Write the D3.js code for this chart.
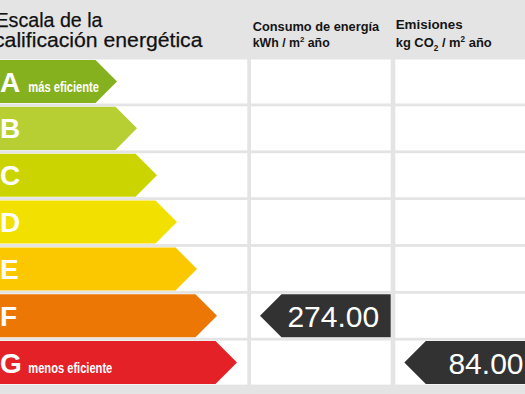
<!DOCTYPE html>
<html>
<head>
<meta charset="utf-8">
<script src="https://cdn.jsdelivr.net/npm/d3@7"></script>
<style>
  html, body { margin: 0; padding: 0; background: #e4e4e4; overflow: hidden; }
  svg { display: block; }
</style>
</head>
<body>
<div id="chart"></div>
<script>
// ---- data ----
const classes = ["A", "B", "C", "D", "E", "F", "G"];
const classRank = [1, 2, 3, 4, 5, 6, 7];
const classNotes = ["más eficiente", "", "", "", "", "", "menos eficiente"];
const titleLines = ["Escala de la", "calificación energética"];
const indicators = ["Consumo de energía", "Emisiones"];
const indicatorUnits = ["kWh / m² año", "kg CO₂ / m² año"];
const indicatorValues = [274.00, 84.00];
const indicatorClasses = ["F", "G"];

// ---- styles ----
const palette = ["#86b11f", "#b7cf33", "#ccd400", "#f1e000", "#fbc800", "#ec7705", "#e32127"];
const W = 525, H = 394;
const gray = "#e4e4e4";

const svg = d3.select("#chart").append("svg")
  .attr("width", W).attr("height", H)
  .style("font-family", "'Liberation Sans', Arial, Helvetica, sans-serif");

svg.append("rect").attr("width", W).attr("height", H).attr("fill", gray);

const y = d3.scaleBand().domain(classes).range([59.5, 384.6]).paddingInner(0.06);
const tip = d3.scaleLinear().domain([1, 7]).range([117, 237]);
const color = d3.scaleOrdinal(classes, palette);

// column layout
const cols = [
  { x0: 0, x1: 247.3 },
  { x0: 251, x1: 390.7 },
  { x0: 395.3, x1: 535 }
];

// white cells
cols.forEach(c => {
  svg.append("g").selectAll("rect").data(classes).join("rect")
    .attr("x", c.x0).attr("width", c.x1 - c.x0)
    .attr("y", d => y(d)).attr("height", y.bandwidth())
    .attr("fill", "#ffffff");
});

// title
svg.append("g").selectAll("text").data(titleLines).join("text")
  .attr("x", (d, i) => i === 0 ? -4.5 : -6)
  .attr("y", (d, i) => i === 0 ? 27 : 47.3)
  .attr("textLength", (d, i) => i === 0 ? 107 : 208.5)
  .attr("lengthAdjust", "spacingAndGlyphs")
  .attr("font-size", 20.5)
  .attr("fill", "#111")
  .attr("stroke", "#111").attr("stroke-width", 0.25)
  .text(d => d);

// column headers
const hdr = svg.append("g").attr("fill", "#151515").attr("font-weight", "bold");
hdr.append("text").attr("x", 252.7).attr("y", 30.5).attr("font-size", 12.5)
  .attr("textLength", 126.5).attr("lengthAdjust", "spacingAndGlyphs")
  .text(indicators[0]);
const u1 = hdr.append("text").attr("x", 252.7).attr("y", 46.5).attr("font-size", 12.5)
  .attr("textLength", 77).attr("lengthAdjust", "spacingAndGlyphs");
{
  const parts = indicatorUnits[0].split("²");
  u1.append("tspan").text(parts[0]);
  u1.append("tspan").attr("dy", -4.5).attr("font-size", 8).text("2");
  u1.append("tspan").attr("dy", 4.5).text(parts[1]);
}
hdr.append("text").attr("x", 395.7).attr("y", 29.3).attr("font-size", 13.5)
  .attr("textLength", 67).attr("lengthAdjust", "spacingAndGlyphs")
  .text(indicators[1]);
const u2 = hdr.append("text").attr("x", 395.7).attr("y", 46.5).attr("font-size", 13.5)
  .attr("textLength", 96).attr("lengthAdjust", "spacingAndGlyphs");
{
  const a = indicatorUnits[1].split("₂");
  const b = a[1].split("²");
  u2.append("tspan").text(a[0]);
  u2.append("tspan").attr("dy", 4).attr("font-size", 8.5).text("2");
  u2.append("tspan").attr("dy", -4).text(b[0]);
  u2.append("tspan").attr("dy", -5).attr("font-size", 8.5).text("2");
  u2.append("tspan").attr("dy", 5).text(b[1]);
}

// arrows
const barData = classes.map((c, i) => ({ c, rank: classRank[i], note: classNotes[i] }));
const bars = svg.append("g").selectAll("g").data(barData).join("g");
bars.append("path")
  .attr("fill", d => color(d.c))
  .attr("d", d => {
    const t = y(d.c) + 0.5, h = y.bandwidth() - 1, tx = tip(d.rank);
    const p = d3.path();
    p.moveTo(0, t); p.lineTo(tx - h / 2, t); p.lineTo(tx, t + h / 2);
    p.lineTo(tx - h / 2, t + h); p.lineTo(0, t + h); p.closePath();
    return p.toString();
  });
bars.append("text")
  .attr("x", 0).attr("y", d => y(d.c) + 32)
  .attr("font-size", 28).attr("font-weight", "bold").attr("fill", "#fff")
  .text(d => d.c);
bars.filter(d => d.note).append("text")
  .attr("x", 28.3).attr("y", d => y(d.c) + 32.3)
  .attr("font-size", 15).attr("font-weight", "bold").attr("fill", "#fff")
  .style("font-family", "'Liberation Sans Narrow', 'Arial Narrow', 'Liberation Sans', sans-serif")
  .attr("textLength", d => d.c === "A" ? 70.7 : 84).attr("lengthAdjust", "spacingAndGlyphs")
  .text(d => d.note);

// value pointers
const fmt = d3.format(".2f");
const ptrData = indicatorValues.map((v, i) => ({ v, cls: indicatorClasses[i], col: cols[i + 1] }));
const ptr = svg.append("g").selectAll("g").data(ptrData).join("g");
ptr.append("path")
  .attr("fill", "#323232")
  .attr("d", d => {
    const t = y(d.cls) + 0.5, h = y.bandwidth() - 1, tx = d.col.x0 + 9;
    const p = d3.path();
    p.moveTo(d.col.x1, t); p.lineTo(tx + h / 2, t); p.lineTo(tx, t + h / 2);
    p.lineTo(tx + h / 2, t + h); p.lineTo(d.col.x1, t + h); p.closePath();
    return p.toString();
  });
ptr.append("text")
  .attr("x", d => d.col.x1 - 11.5).attr("y", d => y(d.cls) + 33)
  .attr("text-anchor", "end").attr("font-size", 30).attr("fill", "#fff")
  .text(d => fmt(d.v));
</script>
</body>
</html>
